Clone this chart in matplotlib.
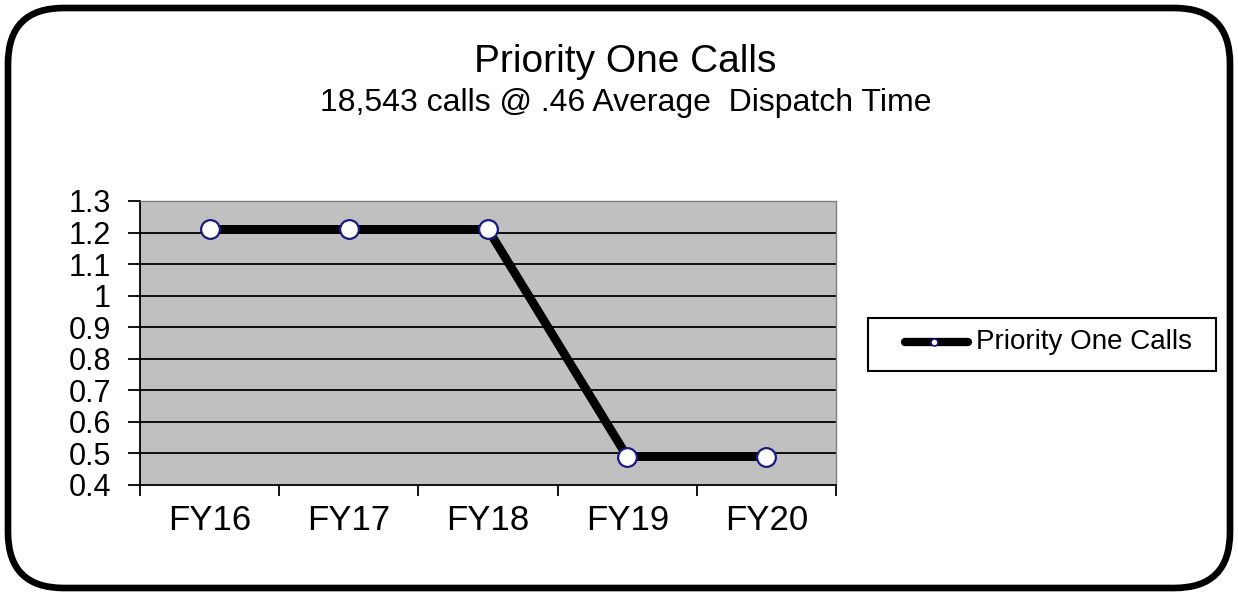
import matplotlib
matplotlib.use("Agg")
import matplotlib.pyplot as plt
from matplotlib.patches import FancyBboxPatch, Rectangle
from matplotlib.lines import Line2D

plt.rcParams['font.family'] = ['Liberation Sans', 'DejaVu Sans']

categories = ["FY16", "FY17", "FY18", "FY19", "FY20"]
values = [1.21, 1.21, 1.21, 0.49, 0.49]
yticks = [0.4, 0.5, 0.6, 0.7, 0.8, 0.9, 1.0, 1.1, 1.2, 1.3]
ytick_labels = ["0.4", "0.5", "0.6", "0.7", "0.8", "0.9", "1", "1.1", "1.2", "1.3"]
series_name = "Priority One Calls"
title = "Priority One Calls"
subtitle = "18,543 calls @ .46 Average  Dispatch Time"

W, H = 1238, 596
fig = plt.figure(figsize=(W / 100, H / 100), dpi=100)

# rounded outer border
border = FancyBboxPatch((8 / W, 8 / H), (W - 16) / W, (H - 16) / H,
                        boxstyle="round,pad=0,rounding_size=0.045",
                        transform=fig.transFigure, fill=False,
                        edgecolor="black", linewidth=4.8,
                        mutation_aspect=W / H)
fig.patches.append(border)

ax = fig.add_axes([140 / W, 1 - 485 / H, (836 - 140) / W, (485 - 201) / H])
ax.set_facecolor("#c0c0c0")

x = list(range(len(categories)))
ax.set_xlim(-0.5, len(categories) - 0.5)
ax.set_ylim(0.4, 1.3)

for yv in yticks[1:-1]:
    ax.axhline(yv, color="black", linewidth=1.3, zorder=1)

ax.plot(x, values, color="black", linewidth=6.3, solid_capstyle="butt",
        zorder=3)
ax.plot(x, values, linestyle="none", marker="o", markersize=13.5,
        markerfacecolor="white", markeredgecolor="#1a1a80",
        markeredgewidth=1.6, zorder=4)

ax.set_yticks(yticks)
ax.set_yticklabels(ytick_labels)
ax.set_xticks(x)
ax.set_xticklabels(categories)
ax.set_xticks([i - 0.5 for i in range(len(categories) + 1)], minor=True)
ax.tick_params(axis="x", which="major", length=0, pad=14, labelsize=25)
ax.tick_params(axis="x", which="minor", length=8, width=1.3, direction="out")
ax.tick_params(axis="y", length=9, width=1.3, direction="out", pad=12,
               labelsize=22)

for side in ["top", "right"]:
    ax.spines[side].set_color("#808080")
    ax.spines[side].set_linewidth(1)
for side in ["left", "bottom"]:
    ax.spines[side].set_color("black")
    ax.spines[side].set_linewidth(1.3)

fig.text(625 / W, 1 - 62 / H, title, ha="center", va="center", fontsize=28)
fig.text(626 / W, 1 - 103 / H, subtitle, ha="center", va="center",
         fontsize=23)

# legend drawn manually to match the reference box
fig.patches.append(Rectangle((868 / W, 1 - 371 / H), (1216 - 868) / W,
                             (371 - 318) / H, transform=fig.transFigure,
                             fill=True, facecolor="white",
                             edgecolor="black", linewidth=1.5))
fig.lines.append(Line2D([905 / W, 968 / W], [1 - 342 / H, 1 - 342 / H],
                        transform=fig.transFigure, color="black",
                        linewidth=6, solid_capstyle="round"))
fig.lines.append(Line2D([934 / W], [1 - 342 / H], transform=fig.transFigure,
                        linestyle="none", marker="o", markersize=5,
                        markerfacecolor="white", markeredgecolor="#1a1a80",
                        markeredgewidth=1.2))
fig.text(976 / W, 1 - 342 / H, series_name, ha="left", va="center",
         fontsize=20)

fig.savefig("out.png", dpi=100)
